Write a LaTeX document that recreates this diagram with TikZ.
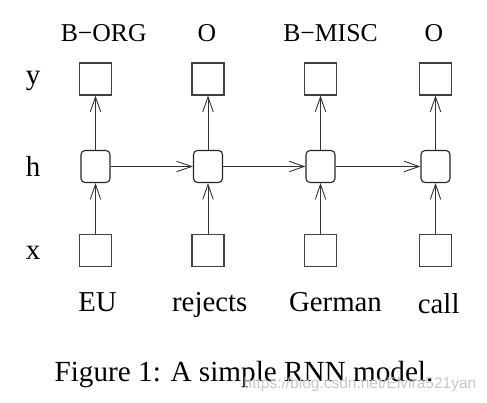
\documentclass[tikz,border=0pt]{standalone}
\usepackage{fontspec}
\setmainfont{Liberation Serif}
\newfontfamily\wmfont{Liberation Sans}
\usetikzlibrary{arrows.meta}
\begin{document}
\begin{tikzpicture}[x=1pt,y=-1pt,
  sqbox/.style={draw=black!75, line width=1.1pt, minimum width=32pt, minimum height=32pt, inner sep=0pt},
  hbox/.style={draw=black!85, line width=1.1pt, rounded corners=4pt, minimum width=29pt, minimum height=32pt, inner sep=0pt},
  conn/.style={draw=black!80, line width=0.9pt, -{Straight Barb[length=15pt,width=10.5pt,line width=0.9pt]}},
  toplab/.style={font=\fontsize{25.7}{28}\selectfont, inner sep=0pt, anchor=base},
  lab/.style={font=\fontsize{28.8}{32}\selectfont, inner sep=0pt, anchor=base},
  rowlab/.style={font=\fontsize{29}{32}\selectfont, inner sep=0pt, anchor=base}]
\useasboundingbox (0,0) rectangle (487,403);
% columns
\foreach \i/\cx in {1/95.5, 2/208, 3/320.5, 4/435.5}{
  \node[sqbox] (y\i) at (\cx,79) {};
  \node[hbox] (h\i) at (\cx,166.5) {};
  \node[sqbox] (x\i) at (\cx,250.5) {};
  \draw[conn] (x\i) -- (h\i);
  \draw[conn] (h\i) -- (y\i);
}
\node[toplab] (t1) at (103.7,41.7) {B−ORG};
\node[toplab] (t2) at (207,41.7) {O};
\node[toplab] (t3) at (330.5,41.7) {B−MISC};
\node[toplab] (t4) at (434,41.7) {O};
\node[lab] (w1) at (97.5,311.7) {EU};
\node[lab] (w2) at (209.7,311.7) {rejects};
\node[lab] (w3) at (335.5,311.7) {German};
\node[lab] (w4) at (438.7,313.3) {call};
\draw[conn] (h1) -- (h2);
\draw[conn] (h2) -- (h3);
\draw[conn] (h3) -- (h4);
\node[rowlab] (ly) at (33,84.5) {y};
\node[rowlab] (lh) at (33,176.7) {h};
\node[rowlab] (lx) at (33,260) {x};
\node[font=\fontsize{29.2}{34}\selectfont, inner sep=0pt, anchor=base] (cap) at (244,381.7) {Figure 1: A simple RNN model.};
\node[font=\wmfont\fontsize{15.5}{17}\selectfont, text=black!22, inner sep=0pt] (wm) at (360,384) {https://blog.csdn.net/Elvira521yan};
\end{tikzpicture}
\end{document}
